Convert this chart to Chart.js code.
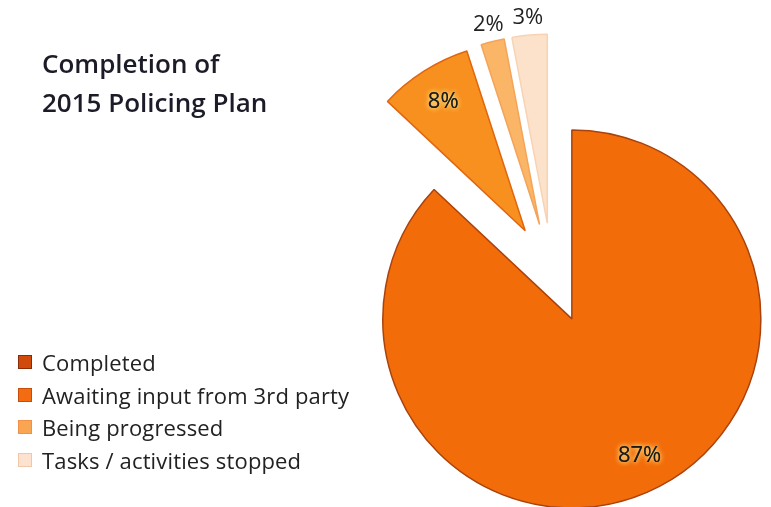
<!DOCTYPE html>
<html>
<head>
<meta charset="utf-8">
<title>Completion of 2015 Policing Plan</title>
<script src="https://cdn.jsdelivr.net/npm/chart.js@4.4.1/dist/chart.umd.min.js"></script>
<style>
  body { margin: 0; background: #fff; }
  #wrap { position: relative; width: 771px; height: 507px; overflow: hidden; font-family: "Open Sans", Lato, sans-serif; font-variant-ligatures: none; }
  #planChart { position: absolute; left: 0; top: 0; }
  #title { position: absolute; left: 42px; top: 44px; font-size: 26px; font-weight: 600; line-height: 39px; color: #1c1c28; }
  #legend { position: absolute; left: 18px; top: 346px; }
  .lg-row { height: 32.5px; display: flex; align-items: center; font-size: 22px; letter-spacing: 0.15px; color: #222; }
  .lg-box { width: 12px; height: 12px; margin-right: 10px; border: 1px solid; }
</style>
</head>
<body>
<div id="wrap">
  <canvas id="planChart" width="771" height="507"></canvas>
  <div id="title">Completion of<br>2015 Policing Plan</div>
  <div id="legend"></div>
</div>
<script>
// plan status breakdown (%)
const categories = ['Completed', 'Awaiting input from 3rd party', 'Being progressed', 'Tasks / activities stopped'];
const percentages = [87, 8, 2, 3];

const sliceColors = ['#f36c0a', '#f7901f', '#fbb567', '#fde2cb'];
const sliceBorders = ['#a9420c', '#e0650f', '#f4a458', '#f8d3b3'];
const legendColors = ['#d04a0c', '#f36c12', '#f9a552', '#fde2cf'];
const legendBorders = ['#8a2a06', '#c84c0a', '#f0904a', '#f0c8a8'];

// pull every slice away from the centre along its middle angle
const explodePlugin = {
  id: 'explode',
  afterDatasetUpdate(chart, args, opts) {
    args.meta.data.forEach(arc => {
      const mid = (arc.startAngle + arc.endAngle) / 2;
      arc.x += Math.cos(mid) * opts.distance;
      arc.y += Math.sin(mid) * opts.distance;
    });
  }
};

// percentage labels: inside for big slices, just outside for thin ones
const sliceLabels = {
  id: 'sliceLabels',
  afterDatasetsDraw(chart) {
    const ctx = chart.ctx;
    const meta = chart.getDatasetMeta(0);
    ctx.save();
    ctx.font = '22px "Open Sans", Lato, sans-serif';
    ctx.textAlign = 'center';
    ctx.textBaseline = 'middle';
    meta.data.forEach((arc, i) => {
      const v = percentages[i];
      const mid = (arc.startAngle + arc.endAngle) / 2;
      const inside = v >= 5;
      const r = arc.outerRadius * (inside ? 0.81 : 1.09);
      // big slice label sits a little off its middle line
      const a = inside && v > 50 ? mid - 0.05 : mid;
      const x = arc.x + Math.cos(a) * r;
      const y = arc.y + Math.sin(a) * r;
      const txt = v + '%';
      if (inside) {
        ctx.shadowColor = 'rgba(255, 226, 130, 1)';
        ctx.shadowBlur = 5;
        ctx.fillStyle = '#1a1a1a';
        ctx.fillText(txt, x, y);
        ctx.fillText(txt, x, y);
        ctx.shadowBlur = 0;
      } else {
        ctx.fillStyle = '#222';
        ctx.fillText(txt, x, y);
      }
    });
    ctx.restore();
  }
};

new Chart(document.getElementById('planChart'), {
  type: 'pie',
  data: {
    labels: categories,
    datasets: [{
      data: percentages,
      backgroundColor: sliceColors,
      borderColor: sliceBorders,
      borderWidth: 1.5,
      radius: 189
    }]
  },
  options: {
    responsive: false,
    animation: false,
    layout: { padding: { left: 340, right: 7, top: 40, bottom: 1 } },
    plugins: {
      legend: { display: false },
      tooltip: { enabled: false },
      explode: { distance: 50 }
    }
  },
  plugins: [explodePlugin, sliceLabels]
});

// legend rows
let html = '';
categories.forEach((c, i) => {
  html += `<div class="lg-row"><span class="lg-box" style="background:${legendColors[i]};border-color:${legendBorders[i]}"></span>${c}</div>`;
});
document.getElementById('legend').innerHTML = html;
</script>
</body>
</html>
